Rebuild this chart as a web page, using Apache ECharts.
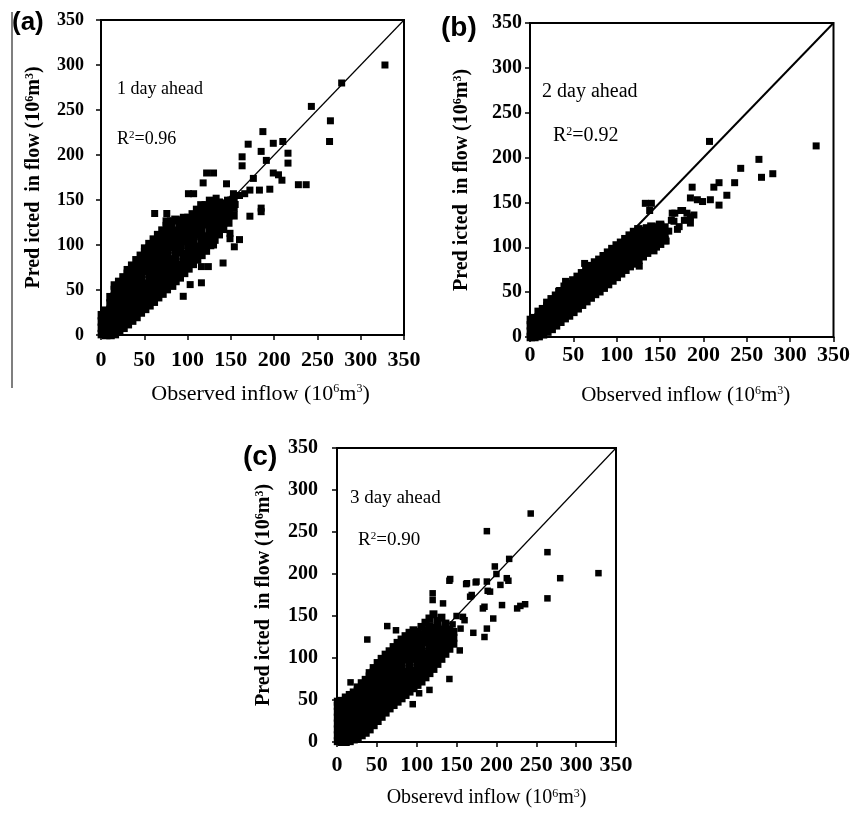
<!DOCTYPE html>
<html>
<head>
<meta charset="utf-8">
<script src="https://cdn.jsdelivr.net/npm/echarts@6/dist/echarts.min.js"></script>
<style>html,body{margin:0;padding:0;background:#fff;}#c{width:853px;height:814px;}</style>
</head>
<body>
<div id="c"></div>
<script>
// ---- tick labels / axis ----
const tickValues = [0, 50, 100, 150, 200, 250, 300, 350];
const axisMin = 0, axisMax = 350, axisStep = 50;
const identityLine = [[0, 0], [350, 350]];

// ---- panel texts ----
const panelLabels = ['(a)', '(b)', '(c)'];
const leadTexts = ['1 day ahead', '2 day ahead', '3 day ahead'];
const r2Values = ['0.96', '0.92', '0.90'];
const xTitles = ['Observed inflow', 'Observed inflow', 'Obserevd inflow'];
const yTitle = 'Pred icted  in flow';

// ---- panel (a) 1 day ahead: [observed, predicted] ----
const aCore = [
[1,1],[1,8],[1,15],[1,22],
[6,0],[6,7],[6,14],[6,21],[6,27],
[11,0],[11,7],[11,14],[11,21],[11,28],[11,35],[11,42],
[16,1],[16,8],[16,15],[16,22],[16,29],[16,36],[16,43],[16,50],[16,55],
[21,4],[21,11],[21,18],[21,25],[21,32],[21,39],[21,46],[21,53],[21,59],
[26,8],[26,15],[26,22],[26,29],[26,36],[26,43],[26,50],[26,57],[26,64],
[31,12],[31,19],[31,26],[31,33],[31,40],[31,47],[31,54],[31,61],[31,68],[31,72],
[36,16],[36,23],[36,30],[36,37],[36,44],[36,51],[36,58],[36,65],[36,72],[36,77],
[41,20],[41,27],[41,34],[41,41],[41,48],[41,55],[41,62],[41,69],[41,76],[41,83],
[46,25],[46,32],[46,39],[46,46],[46,53],[46,60],[46,67],[46,74],[46,81],[46,88],
[51,29],[51,36],[51,43],[51,50],[51,57],[51,71],[51,78],[51,85],[51,92],[51,96],
[56,33],[56,40],[56,47],[56,54],[56,61],[56,68],[56,75],[56,82],[56,89],[56,96],[56,101],
[61,37],[61,44],[61,51],[61,58],[61,65],[61,72],[61,79],[61,86],[61,93],[61,100],[61,106],
[66,42],[66,49],[66,56],[66,63],[66,70],[66,77],[66,84],[66,91],[66,98],[66,105],[66,111],
[71,46],[71,53],[71,60],[71,67],[71,74],[71,81],[71,88],[71,95],[71,102],[71,109],[71,116],
[76,51],[76,58],[76,65],[76,72],[76,79],[76,86],[76,93],[76,100],[76,107],[76,114],[76,121],[76,126],
[81,56],[81,63],[81,70],[81,77],[81,84],[81,98],[81,105],[81,112],[81,119],[81,126],
[86,60],[86,67],[86,74],[86,81],[86,88],[86,95],[86,102],[86,109],[86,116],[86,128],
[91,64],[91,71],[91,78],[91,92],[91,99],[91,106],[91,113],[91,120],[91,127],
[96,69],[96,76],[96,83],[96,90],[96,104],[96,111],[96,118],[96,125],[96,130],
[101,74],[101,81],[101,88],[101,95],[101,102],[101,109],[101,116],[101,123],[101,130],
[106,79],[106,86],[106,93],[106,100],[106,107],[106,114],[106,121],[106,128],[106,134],
[111,84],[111,91],[111,98],[111,112],[111,119],[111,126],[111,133],[111,139],
[116,89],[116,96],[116,103],[116,110],[116,117],[116,124],[116,131],[116,138],[116,144],
[121,95],[121,102],[121,109],[121,123],[121,130],[121,137],[121,144],
[126,100],[126,107],[126,114],[126,121],[126,128],[126,135],[126,142],[126,149],
[131,106],[131,113],[131,120],[131,127],[131,134],[131,141],[131,148],
[136,112],[136,119],[136,126],[136,133],[136,140],[136,147],
[141,118],[141,125],[141,132],[141,139],[141,146],
[147,125],[147,133],[147,141],[147,149],
[153,133],[153,142],[153,150]
];
const aOut = [
[328,300],[278,280],[243,254],[265,238],[264,215],[237,167],[228,167],[216,202],[216,191],
[210,215],[199,213],[187,226],[185,204],[191,194],[170,212],[163,198],[163,188],[199,180],
[205,178],[209,172],[195,162],[183,161],[185,141],[185,137],[172,132],[172,161],[176,174],
[166,157],[153,157],[145,168],[133,152],[130,180],[122,180],[118,169],[107,157],[101,157],
[76,135],[62,135],[149,107],[160,106],[154,98],[149,113],[130,100],[122,93],[116,76],
[124,76],[141,80],[116,58],[103,56],[95,43],[83,54],[68,46],[140,140],[150,150],[145,133],
[155,145],[160,155],[137,128]
];

// ---- panel (b) 2 day ahead ----
const bCore = [
[1,0],[1,6],[1,13],[1,19],
[5,0],[5,7],[5,14],[5,21],
[10,1],[10,8],[10,15],[10,22],[10,28],
[15,3],[15,10],[15,17],[15,24],[15,31],
[20,6],[20,13],[20,20],[20,27],[20,34],[20,38],
[25,9],[25,16],[25,23],[25,30],[25,37],[25,42],
[30,13],[30,20],[30,27],[30,34],[30,41],[30,46],
[35,17],[35,24],[35,31],[35,38],[35,45],[35,51],
[40,21],[40,28],[40,35],[40,42],[40,49],[40,56],
[45,24],[45,31],[45,38],[45,45],[45,52],[45,59],
[50,28],[50,35],[50,42],[50,49],[50,56],[50,63],
[55,32],[55,39],[55,46],[55,53],[55,60],[55,67],
[60,36],[60,43],[60,50],[60,57],[60,64],[60,71],
[65,40],[65,47],[65,54],[65,61],[65,68],[65,75],
[70,44],[70,51],[70,58],[70,65],[70,72],[70,79],
[75,48],[75,55],[75,62],[75,69],[75,76],[75,83],
[80,51],[80,58],[80,65],[80,72],[80,79],[80,86],
[85,55],[85,62],[85,69],[85,76],[85,83],[85,90],
[90,59],[90,66],[90,73],[90,80],[90,87],[90,94],
[95,63],[95,70],[95,77],[95,84],[95,91],[95,98],
[100,67],[100,74],[100,81],[100,88],[100,95],[100,102],
[105,71],[105,78],[105,85],[105,92],[105,99],[105,105],
[110,75],[110,82],[110,89],[110,96],[110,103],[110,109],
[115,79],[115,86],[115,93],[115,100],[115,107],[115,113],
[120,82],[120,89],[120,96],[120,103],[120,110],[120,117],
[125,86],[125,93],[125,100],[125,107],[125,114],[125,120],
[130,90],[130,97],[130,104],[130,111],[130,118],
[135,94],[135,101],[135,108],[135,115],[135,121],
[140,98],[140,105],[140,112],[140,119],[140,123],
[145,101],[145,108],[145,115],[145,122],
[150,104],[150,111],[150,118],[150,125],
[155,108],[155,115],[155,122]
];
const bOut = [
[33,51],[41,62],[63,82],[126,79],[133,149],[138,141],[140,149],[155,116],[157,107],[140,101],
[143,96],[151,124],[160,118],[163,130],[164,138],[167,138],[174,141],[172,123],[178,130],
[185,134],[185,127],[189,136],[187,167],[185,155],[193,153],[199,151],[208,153],[212,167],
[218,172],[218,147],[227,158],[236,172],[243,188],[207,218],[264,198],[267,178],[280,182],
[330,213],[170,120],[166,129],[176,141],[181,138]
];

// ---- panel (c) 3 day ahead ----
const cCore = [
[1,1],[1,8],[1,15],[1,22],[1,29],[1,36],[1,43],[1,48],
[6,0],[6,7],[6,14],[6,21],[6,28],[6,35],[6,42],[6,49],
[11,0],[11,7],[11,14],[11,21],[11,28],[11,35],[11,42],[11,49],[11,53],
[16,1],[16,8],[16,15],[16,22],[16,29],[16,36],[16,43],[16,50],[16,56],
[21,3],[21,10],[21,17],[21,24],[21,31],[21,38],[21,45],[21,52],[21,59],
[26,5],[26,12],[26,19],[26,26],[26,33],[26,40],[26,47],[26,54],[26,61],[26,65],
[31,8],[31,15],[31,22],[31,29],[31,36],[31,43],[31,50],[31,57],[31,64],[31,70],
[36,11],[36,18],[36,25],[36,32],[36,39],[36,46],[36,53],[36,60],[36,67],[36,74],
[41,15],[41,22],[41,29],[41,36],[41,43],[41,50],[41,57],[41,64],[41,71],[41,78],[41,82],
[46,20],[46,27],[46,34],[46,41],[46,48],[46,55],[46,62],[46,69],[46,76],[46,83],[46,88],
[51,25],[51,32],[51,39],[51,46],[51,53],[51,60],[51,67],[51,74],[51,81],[51,88],[51,94],
[56,30],[56,37],[56,44],[56,51],[56,58],[56,65],[56,72],[56,79],[56,86],[56,93],[56,99],
[61,35],[61,42],[61,49],[61,56],[61,63],[61,70],[61,77],[61,84],[61,91],[61,98],[61,104],
[66,40],[66,47],[66,54],[66,61],[66,68],[66,75],[66,82],[66,89],[66,96],[66,103],[66,108],
[71,44],[71,51],[71,58],[71,65],[71,72],[71,79],[71,86],[71,93],[71,100],[71,107],[71,113],
[76,48],[76,55],[76,62],[76,69],[76,76],[76,83],[76,90],[76,97],[76,104],[76,111],[76,118],
[81,52],[81,59],[81,66],[81,73],[81,80],[81,87],[81,94],[81,101],[81,108],[81,115],[81,122],
[86,56],[86,63],[86,70],[86,77],[86,84],[86,98],[86,105],[86,112],[86,119],[86,126],
[91,60],[91,67],[91,74],[91,81],[91,88],[91,95],[91,102],[91,109],[91,116],[91,123],[91,130],
[96,64],[96,71],[96,78],[96,85],[96,99],[96,106],[96,113],[96,120],[96,127],[96,133],
[101,68],[101,75],[101,82],[101,89],[101,96],[101,103],[101,110],[101,117],[101,124],[101,131],
[106,72],[106,79],[106,86],[106,93],[106,100],[106,107],[106,114],[106,121],[106,128],[106,137],
[111,77],[111,84],[111,91],[111,98],[111,105],[111,119],[111,126],[111,133],[111,142],
[116,82],[116,89],[116,96],[116,103],[116,110],[116,117],[116,124],[116,131],[116,138],[116,147],
[121,87],[121,94],[121,101],[121,108],[121,115],[121,122],[121,129],[121,136],[121,152],
[126,93],[126,100],[126,107],[126,114],[126,121],[126,128],[126,135],[126,144],
[131,99],[131,106],[131,113],[131,120],[131,127],[131,134],[131,148],
[136,105],[136,112],[136,119],[136,126],[136,133],[136,141],
[141,111],[141,118],[141,125],[141,134],
[146,117],[146,124],[146,131]
];
const cOut = [
[328,201],[280,195],[264,226],[264,171],[243,272],[188,251],[236,164],[230,162],[226,159],
[216,218],[215,192],[213,195],[200,200],[198,209],[207,163],[205,187],[196,147],[192,179],
[189,180],[188,191],[185,161],[183,159],[188,135],[185,125],[174,190],[175,191],[162,188],
[163,189],[169,175],[167,173],[171,130],[158,149],[142,194],[141,192],[120,177],[120,169],
[133,165],[154,109],[141,113],[141,75],[116,62],[103,58],[95,45],[63,138],[74,133],[38,122],
[17,71],[40,54],[150,150],[145,140],[155,135],[160,145]
];

const SERIF = '"Liberation Serif", "Times New Roman", serif';
const SANS = '"Liberation Sans", Arial, sans-serif';

const panels = [
  {grid:{left:101, top:20, width:303, height:315}, xLab:22, yLab:18, xMargin:14, yMargin:17, xGap:48, yGap:57, xName:22, yName:20, xShift:16, sym:7, core:8.5, lw:1.2},
  {grid:{left:530, top:23, width:308, height:314}, xLab:22, yLab:20, xMargin:7, yMargin:8, xGap:48, yGap:58, xName:21, yName:20, xShift:8, sym:7, core:8.5, lw:2},
  {grid:{left:337, top:448, width:279, height:294}, xLab:22, yLab:20, xMargin:12, yMargin:19, xGap:46, yGap:63, xName:20, yName:20, xShift:20, sym:6.5, core:8, lw:1.2}
];
const coreSets = [aCore, bCore, cCore];
const outSets = [aOut, bOut, cOut];

const supRich = (size, weight) => ({ sup: { fontSize: size, fontWeight: weight, fontFamily: SERIF, verticalAlign: 'top', color: '#000' } });

const grids = [], xAxes = [], yAxes = [], series = [];
panels.forEach((p, i) => {
  grids.push(Object.assign({ show: true, borderColor: '#000', borderWidth: 2, backgroundColor: '#fff', containLabel: false }, p.grid));
  const common = {
    type: 'value', min: axisMin, max: axisMax, interval: axisStep, gridIndex: i,
    splitLine: { show: false },
    axisLine: { show: true, onZero: false, lineStyle: { color: '#000', width: 2 } },
    axisTick: { show: true, inside: false, length: 5, lineStyle: { color: '#000', width: 1.5 } },
    nameLocation: 'middle'
  };
  xAxes.push(Object.assign({}, common, {
    axisLabel: { color: '#000', fontFamily: SERIF, fontWeight: 'bold', fontSize: p.xLab, margin: p.xMargin,
      formatter: v => tickValues.includes(v) ? String(v) : '' },
    name: xTitles[i] + ' (10{sup|6}m{sup|3})', nameGap: p.xGap,
    nameTextStyle: { color: '#000', fontFamily: SERIF, fontSize: p.xName, fontWeight: 'normal', padding: [0, 0, 0, p.xShift], rich: supRich(12, 'normal') }
  }));
  yAxes.push(Object.assign({}, common, {
    axisLabel: { color: '#000', fontFamily: SERIF, fontWeight: 'bold', fontSize: p.yLab, margin: p.yMargin,
      formatter: v => tickValues.includes(v) ? String(v) : '' },
    name: yTitle + ' (10{sup|6}m{sup|3})', nameGap: p.yGap,
    nameTextStyle: { color: '#000', fontFamily: SERIF, fontSize: p.yName, fontWeight: 'bold', rich: supRich(12, 'bold') }
  }));
  series.push({
    type: 'scatter', xAxisIndex: i, yAxisIndex: i, symbol: 'rect', symbolSize: p.core,
    itemStyle: { color: '#000', opacity: 1 }, silent: true, data: coreSets[i]
  });
  series.push({
    type: 'scatter', xAxisIndex: i, yAxisIndex: i, symbol: 'rect', symbolSize: p.sym,
    itemStyle: { color: '#000', opacity: 1 }, silent: true, data: outSets[i]
  });
  series.push({
    type: 'line', xAxisIndex: i, yAxisIndex: i, symbol: 'none', silent: true,
    lineStyle: { color: '#000', width: p.lw }, data: identityLine, z: 3
  });
});

const textItems = [
  { t: panelLabels[0], left: 12, top: 10, font: SANS, size: 26, w: 'bold' },
  { t: panelLabels[1], left: 441, top: 14, font: SANS, size: 28, w: 'bold' },
  { t: panelLabels[2], left: 243, top: 443, font: SANS, size: 28, w: 'bold' },
  { t: leadTexts[0], left: 117, top: 80, font: SERIF, size: 18, w: 'normal' },
  { t: 'R{sup|2}=' + r2Values[0], left: 117, top: 130, font: SERIF, size: 18, w: 'normal' },
  { t: leadTexts[1], left: 542, top: 82, font: SERIF, size: 20, w: 'normal' },
  { t: 'R{sup|2}=' + r2Values[1], left: 553, top: 126, font: SERIF, size: 20, w: 'normal' },
  { t: leadTexts[2], left: 350, top: 489, font: SERIF, size: 19, w: 'normal' },
  { t: 'R{sup|2}=' + r2Values[2], left: 358, top: 531, font: SERIF, size: 19, w: 'normal' }
];
const graphic = textItems.map(o => ({
  type: 'text', left: o.left, top: o.top, z: 100,
  style: { text: o.t, fill: '#000', fontFamily: o.font, fontSize: o.size, fontWeight: o.w,
    rich: { sup: { fontSize: Math.round(o.size * 0.6), fontFamily: o.font, verticalAlign: 'top', fill: '#000' } } }
}));
graphic.push({ type: 'line', z: 100, shape: { x1: 12, y1: 12, x2: 12, y2: 388 }, style: { stroke: '#555', lineWidth: 1.5 } });

const chart = echarts.init(document.getElementById('c'), null, { renderer: 'canvas' });
chart.setOption({
  backgroundColor: '#fff',
  animation: false,
  grid: grids, xAxis: xAxes, yAxis: yAxes, series: series, graphic: graphic
});
</script>
</body>
</html>
